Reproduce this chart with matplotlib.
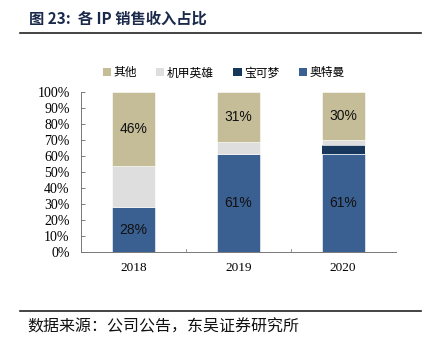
import matplotlib
matplotlib.use("Agg")
import matplotlib.pyplot as plt
from matplotlib.patches import Patch
from matplotlib.lines import Line2D

years = ["2018", "2019", "2020"]
ultraman = [28, 61, 61]   # 奥特曼
pokemon = [0, 0, 6]       # 宝可梦
mecha = [26, 8, 3]        # 机甲英雄
other = [46, 31, 30]      # 其他
yticks = [0, 10, 20, 30, 40, 50, 60, 70, 80, 90, 100]

c_ultra = "#3A5F91"
c_poke = "#18375D"
c_mecha = "#DEDEDE"
c_other = "#C4BD97"

cjk = ["Noto Sans CJK SC", "DejaVu Sans"]

fig = plt.figure(figsize=(4.3, 3.5), dpi=100)
ax = fig.add_axes([0.188, 0.28, 0.732, 0.457])

x = list(range(len(years)))
w = 0.41
b1 = ax.bar(x, ultraman, w, color=c_ultra, edgecolor="white", linewidth=0.4)
bot2 = ultraman
b2 = ax.bar(x, pokemon, w, bottom=bot2, color=c_poke, edgecolor="none")
bot3 = [a + b for a, b in zip(ultraman, pokemon)]
b3 = ax.bar(x, mecha, w, bottom=bot3, color=c_mecha, edgecolor="white", linewidth=0.4)
bot4 = [a + b for a, b in zip(bot3, mecha)]
b4 = ax.bar(x, other, w, bottom=bot4, color=c_other, edgecolor="white", linewidth=0.4)

for i in x:
    ax.text(i, ultraman[i] / 2, f"{ultraman[i]}%", ha="center", va="center",
            fontsize=10, family="Liberation Sans", color="#111111")
    ax.text(i, bot4[i] + other[i] / 2, f"{other[i]}%", ha="center", va="center",
            fontsize=10, family="Liberation Sans", color="#111111")

ax.set_xlim(-0.5, 2.5)
ax.set_ylim(0, 100)
ax.set_yticks(yticks)
ax.set_yticklabels([f"{v}%" for v in yticks], family="Liberation Serif", fontsize=10)
ax.set_xticks(x)
ax.set_xticklabels(years, family="Liberation Serif", fontsize=9.5)
ax.tick_params(axis="x", length=0, pad=7)
ax.tick_params(axis="y", direction="in", length=3, width=0.6, color="#666666", pad=8)
for v in [0.5, 1.5]:
    ax.plot([v, v], [0, 1.8], color="#888888", lw=0.6, clip_on=False)
for s in ["top", "right"]:
    ax.spines[s].set_visible(False)
for s in ["left", "bottom"]:
    ax.spines[s].set_color("#777777")
    ax.spines[s].set_linewidth(0.7)

handles = [Patch(facecolor=c_other), Patch(facecolor=c_mecha),
           Patch(facecolor=c_poke), Patch(facecolor=c_ultra)]
labels = ["其他", "机甲英雄", "宝可梦", "奥特曼"]
fig.legend(handles, labels, loc="center", bbox_to_anchor=(0.52, 0.792), ncol=4,
           frameon=False, prop={"family": cjk, "size": 8.5},
           handlelength=0.7, handleheight=0.7, handletextpad=0.2, columnspacing=1.65)

fig.text(0.068, 0.948, "图 23:  各 IP 销售收入占比", family=cjk, fontsize=11,
         fontweight="bold", color="#1B2A4A", va="center")
fig.add_artist(Line2D([0.047, 0.98], [0.905, 0.905], color="#222222", lw=1.2))
fig.add_artist(Line2D([0.047, 0.98], [0.111, 0.111], color="#222222", lw=1.2))
fig.text(0.063, 0.066, "数据来源：公司公告，东吴证券研究所", family=cjk, fontsize=11.5,
         color="#111111", va="center")

fig.savefig("out.png", dpi=100)
